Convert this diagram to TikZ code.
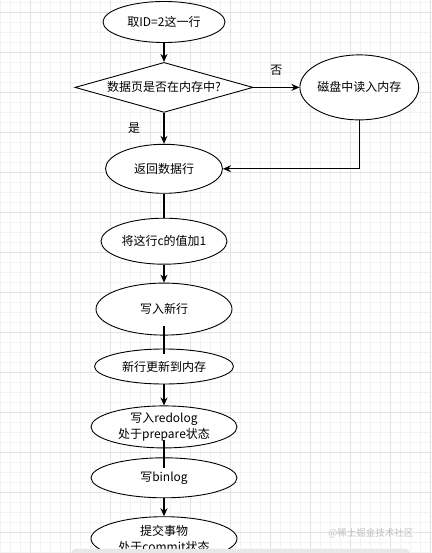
\documentclass[tikz,border=0pt]{standalone}
\usepackage{fontspec}
\setmainfont{Noto Sans CJK SC}
\usetikzlibrary{positioning,shapes.geometric,arrows.meta}

\begin{document}
\begin{tikzpicture}[
x=1pt, y=1pt,
node distance=19pt,
every node/.style={font=\fontsize{12}{16}\selectfont},
oval/.style={draw, ellipse, fill=white, inner sep=0pt, align=center, line width=0.9pt},
cond/.style={draw, diamond, fill=white, inner sep=0pt, aspect=3.56, minimum width=178pt, minimum height=50pt, line width=0.9pt},
flow/.style={line width=1.1pt, -{Stealth[length=8pt,width=7pt]}},
link/.style={line width=1.1pt},
gridminor/.style={draw=black!5, line width=0.6pt},
gridmajor/.style={draw=black!11, line width=0.8pt},
bar/.style={fill=black!9, draw=black!14, rounded corners=4pt}
]
\path[use as bounding box] (0,0) rectangle (431,-553);
% background grid
\begin{scope}
\clip (0,0) rectangle (431,-553);
\draw[gridminor, step=10pt, shift={(0,-2)}] (-10,-570) grid (440,10);
\draw[gridmajor, step=40pt, shift={(30,-12)}] (-40,-600) grid (440,20);
\end{scope}

\node[oval, minimum width=122pt, minimum height=41pt] (quhang) at (164,-22) {取ID=2这一行};
\node[cond, below=19pt of quhang] (neicun) {数据页是否在内存中?};
\node[oval, minimum width=111pt, minimum height=65pt, right=46pt of neicun] (cipan) {磁盘中读入内存};
\node[oval, minimum width=117pt, minimum height=49pt, below=31pt of neicun] (fanhui) {返回数据行};
\node[oval, minimum width=126pt, minimum height=46pt, below=24pt of fanhui] (jiayi) {将这行c的值加1};
\node[oval, minimum width=136pt, minimum height=52pt, below=18pt of jiayi] (xieru) {写入新行};
\node[oval, minimum width=139pt, minimum height=35pt, below=13pt of xieru] (gengxin) {新行更新到内存};
\node[oval, minimum width=146pt, minimum height=42pt, below=21pt of gengxin] (redolog) {写入redolog\\处于prepare状态};
\node[oval, minimum width=146pt, minimum height=40pt, below=9pt of redolog] (binlog) {写binlog};
\node[oval, minimum width=146pt, minimum height=44pt, below=18pt of binlog] (tijiao) {提交事物\\处于commit状态};

\draw[flow] (quhang) -- (neicun);
\draw[flow] (neicun) -- node[above=8pt] (fou) {否} (cipan);
\draw[flow] (neicun) -- node[left=20pt] (shi) {是} (fanhui);
\draw[flow] (cipan) |- (fanhui);
\draw[link] (fanhui) -- (jiayi);
\draw[flow] (jiayi) -- (xieru);
\draw[link, shorten <=-9.5pt, shorten >=-5.5pt] (xieru) -- (gengxin);
\draw[flow] (gengxin) -- (redolog);
\draw[link, shorten <=-8.5pt, shorten >=-10.5pt] (redolog) -- (binlog);
\draw[flow] (binlog) -- (tijiao);

% watermark and bottom bar
\node[anchor=east, font=\fontsize{9.5}{11}\selectfont, text=black!25] (shuiyin) at (417,-533) {@稀土掘金技术社区};
\begin{scope}
\clip (0,0) rectangle (431,-553);
\path[bar] (72,-549) rectangle (409,-565);
\end{scope}
\end{tikzpicture}
\end{document}
